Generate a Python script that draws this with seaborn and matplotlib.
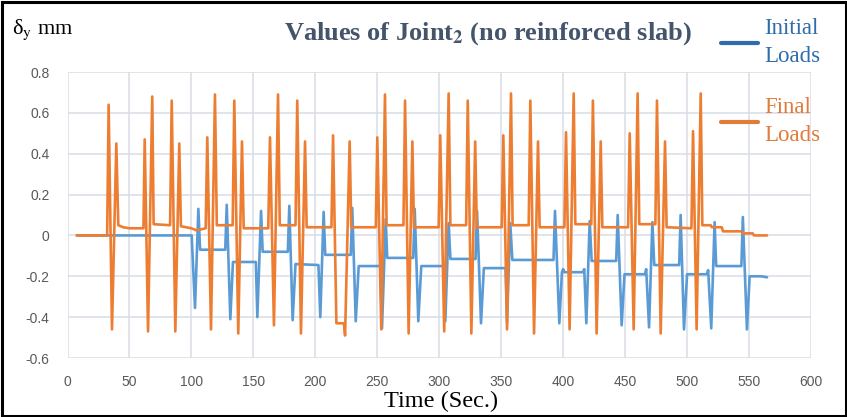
import matplotlib
matplotlib.use("Agg")
import matplotlib.pyplot as plt
import seaborn as sns
import pandas as pd
from matplotlib.lines import Line2D
from matplotlib.patches import Rectangle
from matplotlib import font_manager as fm

# ---------------- data ----------------
series_names = ["Initial Loads", "Final Loads"]

initial_t = [7.5, 100.2, 102.9, 105.6, 107.0, 127.3, 128.5, 131.4, 133.5, 152.0,
             153.2, 156.2, 157.5, 177.8, 179.0, 181.7, 184.0, 202.5, 204.0, 206.7,
             208.0, 228.6, 229.8, 232.6, 235.0, 252.5, 253.8, 256.8, 258.0, 279.0,
             280.2, 283.1, 285.5, 303.5, 304.9, 307.6, 309.0, 329.3, 330.5, 333.7,
             336.0, 353.5, 354.7, 357.3, 359.0, 392.2, 393.4, 396.9, 399.0, 400.0,
             401.0, 416.0, 417.0, 418.7, 421.4, 423.0, 442.8, 444.0, 447.2, 449.5,
             466.0, 467.0, 469.3, 472.0, 473.5, 493.6, 494.8, 497.5, 500.0, 516.0,
             517.0, 519.5, 522.2, 523.5, 543.8, 545.0, 548.3, 550.5, 560.0, 564.5]
initial_v = [0.0, 0.0, -0.355, 0.13, -0.07, -0.07, 0.15, -0.41, -0.13, -0.13,
             -0.40, 0.12, -0.08, -0.08, 0.145, -0.415, -0.14, -0.145, -0.40, 0.115,
             -0.095, -0.095, 0.135, -0.42, -0.15, -0.15, -0.455, 0.08, -0.11, -0.11,
             0.13, -0.42, -0.15, -0.15, -0.42, 0.06, -0.115, -0.115, 0.12, -0.43,
             -0.16, -0.16, -0.425, 0.06, -0.12, -0.12, 0.12, -0.43, -0.18, -0.165,
             -0.18, -0.18, -0.165, -0.43, 0.07, -0.125, -0.125, 0.10, -0.44, -0.19,
             -0.19, -0.165, -0.45, 0.065, -0.145, -0.145, 0.10, -0.46, -0.19, -0.19,
             -0.17, -0.455, 0.065, -0.15, -0.15, 0.09, -0.46, -0.20, -0.20, -0.205]

final_t = [7.5, 32.0, 33.2, 35.9, 39.4, 41.0, 45.0, 50.0, 61.3, 62.3,
           65.0, 68.4, 69.5, 82.8, 84.1, 87.0, 90.2, 91.5, 100.0, 104.0,
           108.0, 111.5, 112.8, 115.8, 119.0, 120.5, 133.3, 134.6, 137.8, 140.8,
           142.2, 162.0, 163.4, 166.6, 169.9, 171.3, 184.0, 185.4, 188.4, 191.7,
           193.0, 213.0, 214.3, 217.0, 223.0, 224.0, 227.7, 229.0, 248.8, 250.0,
           253.2, 256.2, 257.5, 271.1, 272.4, 275.3, 278.3, 279.6, 299.5, 300.8,
           304.0, 307.6, 309.0, 321.7, 323.0, 325.9, 329.0, 330.3, 350.4, 351.7,
           354.7, 357.9, 359.2, 372.2, 373.5, 376.5, 379.7, 381.0, 401.0, 402.3,
           405.2, 408.5, 409.8, 422.7, 424.0, 427.0, 430.3, 431.6, 452.4, 453.7,
           456.9, 460.1, 461.4, 474.4, 475.7, 478.7, 482.2, 483.5, 503.5, 504.8,
           507.7, 511.0, 512.3, 519.0, 520.0, 528.0, 529.0, 544.0, 545.0, 553.0,
           554.0, 564.5]
final_v = [0.0, 0.0, 0.64, -0.46, 0.45, 0.05, 0.04, 0.035, 0.035, 0.47,
           -0.47, 0.68, 0.055, 0.05, 0.66, -0.47, 0.45, 0.045, 0.035, 0.025,
           0.03, 0.035, 0.48, -0.46, 0.69, 0.05, 0.05, 0.66, -0.48, 0.46,
           0.035, 0.035, 0.48, -0.44, 0.69, 0.05, 0.05, 0.66, -0.48, 0.46,
           0.04, 0.04, 0.49, -0.43, -0.43, -0.49, 0.46, 0.04, 0.04, 0.48,
           -0.46, 0.69, 0.05, 0.05, 0.66, -0.48, 0.46, 0.04, 0.04, 0.49,
           -0.47, 0.695, 0.05, 0.05, 0.66, -0.48, 0.46, 0.04, 0.04, 0.49,
           -0.46, 0.695, 0.05, 0.05, 0.66, -0.48, 0.46, 0.04, 0.04, 0.505,
           -0.46, 0.695, 0.055, 0.055, 0.66, -0.48, 0.46, 0.04, 0.04, 0.50,
           -0.46, 0.695, 0.055, 0.055, 0.66, -0.48, 0.46, 0.04, 0.035, 0.51,
           -0.46, 0.695, 0.05, 0.05, 0.04, 0.04, 0.02, 0.02, 0.01, 0.01,
           0.0, 0.0]

x_ticks = [0, 50, 100, 150, 200, 250, 300, 350, 400, 450, 500, 550, 600]
y_ticks = [-0.6, -0.4, -0.2, 0.0, 0.2, 0.4, 0.6, 0.8]
y_tick_labels = ["-0.6", "-0.4", "-0.2", "0", "0.2", "0.4", "0.6", "0.8"]

df = pd.concat([
    pd.DataFrame({"t": initial_t, "v": initial_v, "series": series_names[0]}),
    pd.DataFrame({"t": final_t, "v": final_v, "series": series_names[1]}),
], ignore_index=True)

# ---------------- style ----------------
sns.set_theme(style="white")
plt.rcParams["mathtext.fontset"] = "stix"

available = {f.name for f in fm.fontManager.ttflist}
tick_family = "Liberation Sans Narrow" if "Liberation Sans Narrow" in available else "Liberation Sans"
tick_size = 11.5 if tick_family == "Liberation Sans Narrow" else 10
serif = ["Liberation Serif", "DejaVu Serif"]

line_colors = {"Initial Loads": "#5B9BD5", "Final Loads": "#ED7D31"}
legend_colors = ["#2E6DAA", "#E07B39"]
grid_color = "#D9DEE6"

W, H = 847, 417
fig = plt.figure(figsize=(W / 100, H / 100), dpi=100)
ax_left, ax_right, ax_top, ax_bottom = 67.5, 811, 72, 358
ax = fig.add_axes([ax_left / W, 1 - ax_bottom / H,
                   (ax_right - ax_left) / W, (ax_bottom - ax_top) / H])

sns.lineplot(data=df, x="t", y="v", hue="series", hue_order=series_names,
             palette=line_colors, estimator=None, sort=False,
             linewidth=1.9, ax=ax, legend=False)

ax.set_xlim(0, 600)
ax.set_ylim(-0.6, 0.8)
ax.set_xticks(x_ticks)
ax.set_xticklabels([str(v) for v in x_ticks])
ax.set_yticks(y_ticks)
ax.set_yticklabels(y_tick_labels)
ax.grid(True, color=grid_color, linewidth=1.1)
ax.set_axisbelow(True)
for s in ax.spines.values():
    s.set_visible(False)
ax.tick_params(axis="both", length=0, colors="#595959")
ax.tick_params(axis="x", pad=12)
ax.tick_params(axis="y", pad=13)
for lab in ax.get_xticklabels() + ax.get_yticklabels():
    lab.set_fontfamily(tick_family)
    lab.set_fontsize(tick_size)
    lab.set_color("#595959")
ax.set_xlabel("")
ax.set_ylabel("")

# titles / axis captions
fig.text(488 / W, 1 - 34 / H, r"Values of Joint$_{\mathbf{2}}$ (no reinforced slab)",
         ha="center", va="center", fontsize=19, fontweight="bold",
         color="#44546A", family=serif)
fig.text(12 / W, 1 - 30 / H, r"δ$_{\mathrm{y}}$ mm", ha="left", va="center",
         fontsize=16, color="black", family=serif)
fig.text(441 / W, 1 - 401 / H, "Time (Sec.)", ha="center", va="center",
         fontsize=17.5, color="black", family=serif)

# legend
handles = [Line2D([], [], color=c, linewidth=3) for c in legend_colors]
leg = fig.legend(handles, ["Initial\nLoads", "Final\nLoads"],
                 loc="upper left", bbox_to_anchor=(721 / W, 1 - 18 / H),
                 frameon=False, borderpad=0, borderaxespad=0,
                 handlelength=1.6, handletextpad=0.3, labelspacing=1.3,
                 prop={"family": serif, "size": 16.5})
for txt, c in zip(leg.get_texts(), legend_colors):
    txt.set_color(c)
    txt.set_linespacing(1.45)

# outer frame
fig.patches.append(Rectangle((1.5 / W, 1.5 / H), 1 - 3 / W, 1 - 3 / H,
                             transform=fig.transFigure, fill=False,
                             edgecolor="black", linewidth=2.2))

fig.savefig("out.png", dpi=100)
